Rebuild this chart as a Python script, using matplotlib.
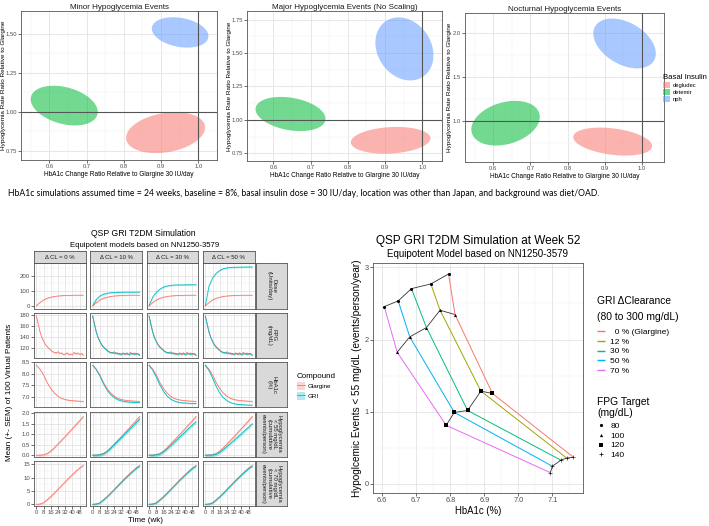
import numpy as np
import matplotlib
matplotlib.use("Agg")
import matplotlib.pyplot as plt
from matplotlib.lines import Line2D
from matplotlib.patches import Patch
from matplotlib.ticker import MultipleLocator, FixedLocator

W, H = 709, 526
plt.rcParams['font.family'] = ['Liberation Sans', 'DejaVu Sans']

# ---------------- top row: hypoglycemia ratio ellipses ----------------
insulins = ['degludec', 'detemir', 'nph']
ins_colors = ['#F8766D', '#00BA38', '#619CFF']
top_titles = ['Minor Hypoglycemia Events', 'Major Hypoglycemia Events (No Scaling)',
              'Nocturnal Hypoglycemia Events']
# per panel, per insulin: centre, half widths, correlation
ell_cx = [[0.912, 0.640, 0.951], [0.915, 0.646, 0.952], [0.921, 0.633, 0.953]]
ell_cy = [[0.867, 1.040, 1.508], [0.847, 1.044, 1.531], [0.766, 0.975, 1.881]]
ell_rx = [[0.106, 0.090, 0.076], [0.107, 0.094, 0.078], [0.106, 0.092, 0.084]]
ell_ry = [[0.131, 0.127, 0.097], [0.100, 0.128, 0.236], [0.159, 0.254, 0.283]]
ell_rho = [[0.25, -0.32, -0.25], [0.15, -0.28, -0.2], [-0.32, 0.28, -0.4]]
top_yticks = [[0.75, 1.0, 1.25, 1.5], [0.75, 1.0, 1.25, 1.5, 1.75], [1.0, 1.5, 2.0]]
top_xticks = [0.6, 0.7, 0.8, 0.9, 1.0]

caption = ("HbA1c simulations assumed time = 24 weeks, baseline = 8%, basal insulin dose = 30 IU/day, "
           "location was other than Japan, and background was diet/OAD.")

# ---------------- bottom left: time courses ----------------
weeks = [0, 4, 8, 12, 16, 20, 24, 28, 32, 36, 40, 44, 48, 52]
weeks_fpg = list(range(0, 53, 2))
col_labels = ['\u0394 CL = 0 %', '\u0394 CL = 10 %', '\u0394 CL = 30 %', '\u0394 CL = 50 %']
row_labels = ['Dose\n(Units/day)', 'FPG\n(mg/dL)', 'HbA1c\n(%)',
              'Hypoglycemia\n< 55 mg/dL\n(cumulative\nevents/person)',
              'Hypoglycemia\n< 70 mg/dL\n(cumulative\nevents/person)']

glargine_dose = [5, 25, 42, 53, 60, 65, 68, 70, 71.5, 72, 72.5, 73, 73, 73]
gri_dose_10 = [5, 45, 68, 80, 86, 89, 91, 92, 92.5, 93, 93, 93, 93, 93]
gri_dose_30 = [5, 60, 92, 112, 126, 133, 137, 139, 140, 140, 140, 141, 141, 141]
gri_dose_50 = [5, 130, 185, 215, 234, 245, 250, 253, 254, 255, 255, 256, 256, 256]

glargine_fpg = [178, 164, 150, 140, 133, 127, 123, 120, 117, 114, 113, 112, 114, 111,
                112, 109, 110, 112, 109, 110, 109, 113, 110, 112, 109, 111, 108]
gri_fpg = [178, 163, 149, 139, 132, 126, 122, 119, 116, 114, 112, 113, 111, 112,
           110, 111, 109, 111, 110, 112, 109, 110, 111, 109, 111, 110, 108]

glargine_hba1c = [8.37, 8.20, 7.95, 7.62, 7.36, 7.17, 7.03, 6.94, 6.89, 6.86, 6.84, 6.83, 6.82, 6.81]
gri_hba1c_10 = [8.37, 8.18, 7.90, 7.57, 7.30, 7.10, 6.97, 6.88, 6.83, 6.80, 6.78, 6.77, 6.76, 6.76]
gri_hba1c_30 = [8.37, 8.16, 7.86, 7.52, 7.24, 7.04, 6.91, 6.83, 6.78, 6.75, 6.74, 6.73, 6.72, 6.72]
gri_hba1c_50 = [8.37, 8.14, 7.82, 7.46, 7.17, 6.97, 6.84, 6.76, 6.71, 6.68, 6.67, 6.66, 6.65, 6.65]

glargine_hypo55 = [0, 0, 0.02, 0.08, 0.20, 0.36, 0.54, 0.72, 0.90, 1.09, 1.27, 1.46, 1.65, 1.85]
gri_hypo55_10 = [0, 0, 0.02, 0.07, 0.18, 0.33, 0.50, 0.67, 0.84, 1.02, 1.19, 1.37, 1.54, 1.72]
gri_hypo55_30 = [0, 0, 0.02, 0.06, 0.16, 0.30, 0.46, 0.62, 0.78, 0.95, 1.11, 1.28, 1.44, 1.60]
gri_hypo55_50 = [0, 0, 0.01, 0.05, 0.14, 0.27, 0.42, 0.57, 0.72, 0.88, 1.03, 1.19, 1.34, 1.50]

glargine_hypo70 = [0, 0.1, 0.6, 1.7, 2.9, 4.2, 5.6, 7.0, 8.4, 9.8, 11.1, 12.4, 13.6, 14.5]
gri_hypo70 = [0, 0.1, 0.5, 1.6, 2.8, 4.1, 5.5, 6.9, 8.3, 9.6, 10.9, 12.1, 13.3, 14.2]

sem_glargine = [2, 1.2, 0.02, 0.05, 0.3]
sem_gri = [4, 1.2, 0.025, 0.08, 0.35]

row_ylim = [(-13, 280), (103, 184), (6.56, 8.51), (-0.08, 2.08), (-0.7, 16.2)]
row_yticks = [[0, 100, 200], [120, 140, 160, 180], [7.0, 7.5, 8.0, 8.5],
              [0, 0.5, 1.0, 1.5, 2.0], [0, 5, 10, 15]]
row_fmt = ['{:.0f}', '{:.0f}', '{:.1f}', '{:.1f}', '{:.0f}']

# ---------------- bottom right: week 52 summary ----------------
clearances = ['  0 % (Glargine)', '12 %', '30 %', '50 %', '70 %']
cl_colors = ['#F8766D', '#A3A500', '#00BF7D', '#00B0F6', '#E76BF3']
fpg_targets = ['80', '100', '120', '140']
fpg_markers = ['o', '^', 's', '+']
hba1c_wk52 = [[6.795, 6.814, 6.924, 7.162],
              [6.743, 6.770, 6.890, 7.142],
              [6.686, 6.730, 6.851, 7.125],
              [6.647, 6.681, 6.812, 7.100],
              [6.606, 6.644, 6.788, 7.094]]
hypo_wk52 = [[2.908, 2.346, 1.253, 0.369],
             [2.770, 2.406, 1.286, 0.359],
             [2.705, 2.166, 1.018, 0.330],
             [2.535, 2.037, 0.991, 0.246],
             [2.456, 1.825, 0.813, 0.157]]

GLAR = '#F8766D'
GRI = '#00BFC4'

fig = plt.figure(figsize=(W / 100, H / 100), dpi=100)


def px_axes(l, t, r, b):
    return fig.add_axes([l / W, 1 - b / H, (r - l) / W, (b - t) / H])


def style_bw(ax, fs):
    ax.set_facecolor('white')
    for s in ax.spines.values():
        s.set_color('#555555')
        s.set_linewidth(0.6)
    ax.tick_params(which='major', length=2, width=0.5, color='#333333',
                   labelsize=fs, labelcolor='#4D4D4D', pad=1)
    ax.tick_params(which='minor', length=0)
    ax.grid(which='major', color='#E3E3E3', lw=0.6)
    ax.grid(which='minor', color='#F1F1F1', lw=0.35)
    ax.set_axisbelow(True)


# top row
top_boxes = [(21, 11, 217, 160), (247, 11, 442, 161), (465, 13, 664, 162)]
top_xlim = [(0.524, 1.050), (0.529, 1.053), (0.524, 1.059)]
top_ylim = [(0.692, 1.645), (0.692, 1.815), (0.534, 2.227)]
top_ylab_x = [-0.077, -0.077, -0.065]
t = np.linspace(0, 2 * np.pi, 200)
for p in range(3):
    ax = px_axes(*top_boxes[p])
    style_bw(ax, 4.2)
    for i in range(3):
        phi = np.arccos(ell_rho[p][i])
        ex = ell_cx[p][i] + ell_rx[p][i] * np.cos(t)
        ey = ell_cy[p][i] + ell_ry[p][i] * np.cos(t - phi)
        ax.fill(ex, ey, color=ins_colors[i], alpha=0.55, lw=0)
    ax.axvline(1.0, color='#555555', lw=0.8)
    ax.axhline(1.0, color='#555555', lw=0.8)
    ax.set_xlim(*top_xlim[p])
    ax.set_ylim(*top_ylim[p])
    ax.set_xticks(top_xticks)
    ax.set_xticklabels(['{:.1f}'.format(v) for v in top_xticks])
    ax.xaxis.set_minor_locator(MultipleLocator(0.05))
    ax.set_yticks(top_yticks[p])
    if p < 2:
        ax.set_yticklabels(['{:.2f}'.format(v) for v in top_yticks[p]])
        ax.yaxis.set_minor_locator(MultipleLocator(0.125))
    else:
        ax.set_yticklabels(['{:.1f}'.format(v) for v in top_yticks[p]])
        ax.yaxis.set_minor_locator(MultipleLocator(0.25))
    ax.set_title(top_titles[p], fontsize=5.8, pad=1.5, color='#1A1A1A')
    ax.set_xlabel('HbA1c Change Ratio Relative to Glargine 30 IU/day', fontsize=4.7, labelpad=1)
    ax.set_ylabel('Hypoglycemia Rate Ratio Relative to Glargine', fontsize=4.6)
    ax.yaxis.set_label_coords(top_ylab_x[p], 0.5)

leg = fig.legend(handles=[Patch(color=c, alpha=0.55, lw=0) for c in ins_colors], labels=insulins,
                 title='Basal Insulin', loc='upper left', bbox_to_anchor=(663 / W, 1 - 74 / H),
                 frameon=False, fontsize=4.2, title_fontsize=5.6, handlelength=1.2, handleheight=1.1,
                 handletextpad=0.4, labelspacing=0.22, borderpad=0, borderaxespad=0)
leg._legend_box.align = 'left'

fig.text(8 / W, 1 - 193 / H, caption, fontsize=6.25, family='Lato', va='center', color='black')

# bottom left facets
cols_l = [34, 90.3, 146.7, 203]
rows_t = [263.3, 312.7, 362, 411.7, 461]
pw, ph = 51.6, 45.2
gri_rows = [[gri_dose_10, gri_dose_30, gri_dose_50],
            [gri_fpg, gri_fpg, gri_fpg],
            [gri_hba1c_10, gri_hba1c_30, gri_hba1c_50],
            [gri_hypo55_10, gri_hypo55_30, gri_hypo55_50],
            [gri_hypo70, gri_hypo70, gri_hypo70]]
glar_rows = [glargine_dose, glargine_fpg, glargine_hba1c, glargine_hypo55, glargine_hypo70]

for r in range(5):
    for c in range(4):
        l, tp = cols_l[c], rows_t[r]
        ax = px_axes(l, tp, l + pw, tp + ph)
        style_bw(ax, 4.3)
        x = weeks_fpg if r == 1 else weeks
        g = np.array(glar_rows[r])
        ax.fill_between(x, g - sem_glargine[r], g + sem_glargine[r], color=GLAR, alpha=0.3, lw=0)
        ax.plot(x, g, color=GLAR, lw=0.6)
        if c > 0:
            v = np.array(gri_rows[r][c - 1])
            ax.fill_between(x, v - sem_gri[r], v + sem_gri[r], color=GRI, alpha=0.3, lw=0)
            ax.plot(x, v, color=GRI, lw=0.6)
        ax.set_xlim(-2.6, 54.6)
        ax.set_ylim(*row_ylim[r])
        ax.set_xticks([0, 8, 16, 24, 32, 40, 48])
        ax.xaxis.set_minor_locator(MultipleLocator(4))
        yt = row_yticks[r]
        ax.set_yticks(yt)
        ax.yaxis.set_minor_locator(FixedLocator([(a + b) / 2 for a, b in zip(yt[:-1], yt[1:])]
                                                + [yt[0] - (yt[1] - yt[0]) / 2, yt[-1] + (yt[1] - yt[0]) / 2]))
        if c == 0:
            ax.set_yticklabels([row_fmt[r].format(v) for v in yt])
        else:
            ax.tick_params(axis='y', length=0, labelleft=False)
        if r == 4:
            ax.set_xticklabels(['0', '8', '16', '24', '32', '40', '48'])
        else:
            ax.tick_params(axis='x', length=0, labelbottom=False)
        if r == 0:
            sax = px_axes(l, 251, l + pw, tp)
            sax.set_facecolor('#D9D9D9')
            sax.set_xticks([])
            sax.set_yticks([])
            for s in sax.spines.values():
                s.set_color('#555555')
                s.set_linewidth(0.6)
            sax.text(0.5, 0.5, col_labels[c], transform=sax.transAxes, ha='center', va='center',
                     fontsize=4.3, color='#1A1A1A')
    sax = px_axes(256, rows_t[r], 286.7, rows_t[r] + ph)
    sax.set_facecolor('#D9D9D9')
    sax.set_xticks([])
    sax.set_yticks([])
    for s in sax.spines.values():
        s.set_color('#555555')
        s.set_linewidth(0.6)
    sax.text(0.5, 0.5, row_labels[r], transform=sax.transAxes, ha='center', va='center',
             rotation=-90, fontsize=4.3, color='#1A1A1A', linespacing=1.1)

fig.text(143 / W, 1 - 234 / H, 'QSP GRI T2DM Simulation', fontsize=6.2, ha='center', va='center')
fig.text(145 / W, 1 - 245.5 / H, 'Equipotent models based on NN1250-3579', fontsize=5.6,
         ha='center', va='center')
fig.text(10 / W, 1 - 392 / H, 'Mean (+- SEM) of 100 Virtual Patients', fontsize=5.9,
         rotation=90, ha='center', va='center')
fig.text(145 / W, 1 - 521 / H, 'Time (wk)', fontsize=5.8, ha='center', va='center')

cmp_handles = [(Patch(color=GLAR, alpha=0.3, lw=0), Line2D([], [], color=GLAR, lw=0.6)),
               (Patch(color=GRI, alpha=0.3, lw=0), Line2D([], [], color=GRI, lw=0.6))]
leg2 = fig.legend(handles=cmp_handles, labels=['Glargine', 'GRI'], title='Compound',
                  loc='upper left', bbox_to_anchor=(297 / W, 1 - 373 / H), frameon=False,
                  fontsize=4.5, title_fontsize=5.8, handlelength=1.3, handleheight=1.6,
                  handletextpad=0.4, labelspacing=0.35, borderpad=0, borderaxespad=0)
leg2._legend_box.align = 'left'

# bottom right summary
ax = px_axes(373, 263, 583, 493)
style_bw(ax, 5.3)
hb = np.array(hba1c_wk52)
hy = np.array(hypo_wk52)
for k in range(len(fpg_targets)):
    ax.plot(hb[:, k], hy[:, k], color='#333333', lw=0.6, zorder=2)
for i in range(len(clearances)):
    ax.plot(hb[i], hy[i], color=cl_colors[i], lw=0.7, zorder=2)
for k in range(len(fpg_targets)):
    ax.scatter(hb[:, k], hy[:, k], marker=fpg_markers[k], color='black',
               s=5 if fpg_markers[k] != '+' else 9, lw=0.4 if fpg_markers[k] == '+' else 0, zorder=3)
ax.set_xlim(6.573, 7.19)
ax.set_ylim(-0.125, 3.06)
ax.set_xticks([6.6, 6.7, 6.8, 6.9, 7.0, 7.1])
ax.set_xticklabels(['6.6', '6.7', '6.8', '6.9', '7.0', '7.1'])
ax.xaxis.set_minor_locator(MultipleLocator(0.05))
ax.set_yticks([0, 1, 2, 3])
ax.yaxis.set_minor_locator(MultipleLocator(0.5))
ax.set_xlabel('HbA1c (%)', fontsize=6.9, labelpad=1.5)
ax.set_ylabel('Hypoglcemic Events < 55 mg/dL (events/person/year)', fontsize=7.2, labelpad=2)
fig.text(478 / W, 1 - 241 / H, 'QSP GRI T2DM Simulation at Week 52', fontsize=8.5,
         ha='center', va='center')
fig.text(478 / W, 1 - 254 / H, 'Equipotent Model based on NN1250-3579', fontsize=7.0,
         ha='center', va='center')

# legend titles as plain text, entries as legends
fig.text(597 / W, 1 - 301 / H, 'GRI \u0394Clearance', fontsize=7.4, va='center')
fig.text(597 / W, 1 - 317 / H, '(80 to 300 mg/dL)', fontsize=7.4, va='center')
cl_handles = [Line2D([], [], color=c, lw=1.0, solid_capstyle='butt') for c in cl_colors]
leg3 = fig.legend(handles=cl_handles, labels=clearances,
                  loc='upper left', bbox_to_anchor=(597 / W, 1 - 327.8 / H), frameon=False,
                  fontsize=6.0, handlelength=0.9, handletextpad=0.7, labelspacing=0.25,
                  borderpad=0, borderaxespad=0)

fig.text(597 / W, 1 - 401.7 / H, 'FPG Target', fontsize=7.4, va='center')
fig.text(597 / W, 1 - 413.3 / H, '(mg/dL)', fontsize=7.4, va='center')
fpg_handles = [Line2D([], [], color='black', marker=m, ls='none',
                      markersize=2.3 if m != '+' else 3, markeredgewidth=0.5 if m == '+' else 0)
               for m in fpg_markers]
leg4 = fig.legend(handles=fpg_handles, labels=fpg_targets,
                  loc='upper left', bbox_to_anchor=(597 / W, 1 - 421.8 / H), frameon=False,
                  fontsize=6.0, handlelength=0.9, handletextpad=0.7,
                  labelspacing=0.25, borderpad=0, borderaxespad=0)

fig.savefig('out.png', dpi=100)
